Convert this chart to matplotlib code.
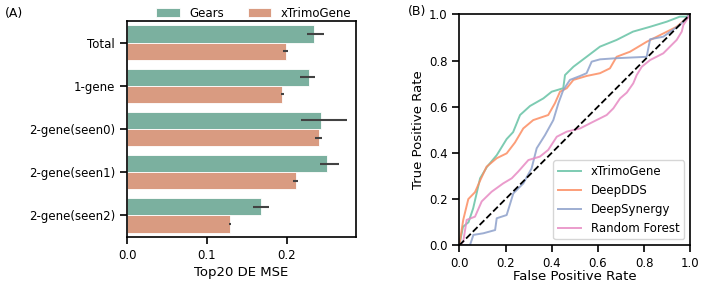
import matplotlib
matplotlib.use("Agg")
import matplotlib.pyplot as plt
import seaborn as sns
import numpy as np

# ---- Panel A data ----
categories = ["Total", "1-gene", "2-gene(seen0)", "2-gene(seen1)", "2-gene(seen2)"]
models_a = ["Gears", "xTrimoGene"]
gears_mse = [0.234, 0.228, 0.243, 0.250, 0.168]
gears_lo = [0.2246, 0.216, 0.2175, 0.241, 0.157]
gears_hi = [0.246, 0.235, 0.2746, 0.265, 0.178]
xtrimo_mse = [0.199, 0.194, 0.2396, 0.211, 0.129]
xtrimo_lo = [0.1954, 0.193, 0.2346, 0.208, 0.128]
xtrimo_hi = [0.2017, 0.196, 0.244, 0.214, 0.130]
xticks_a = [0.0, 0.1, 0.2]

# ---- Panel B data (ROC curves) ----
xtrimo_fpr = [0.0, 0.016, 0.04, 0.06, 0.09, 0.12, 0.162, 0.205, 0.233, 0.263, 0.306, 0.364, 0.40, 0.45, 0.4576, 0.494, 0.551, 0.609, 0.681, 0.752, 0.826, 0.898, 0.955, 0.984, 1.0]
xtrimo_tpr = [0.0, 0.08, 0.10, 0.16, 0.29, 0.34, 0.39, 0.46, 0.49, 0.564, 0.603, 0.636, 0.665, 0.68, 0.737, 0.773, 0.816, 0.86, 0.889, 0.925, 0.946, 0.968, 0.99, 0.99, 1.0]
deepdds_fpr = [0.0, 0.017, 0.039, 0.068, 0.09, 0.118, 0.162, 0.205, 0.241, 0.277, 0.32, 0.385, 0.414, 0.436, 0.465, 0.494, 0.551, 0.609, 0.652, 0.681, 0.739, 0.811, 0.869, 0.941, 0.984, 1.0]
deepdds_tpr = [0.0, 0.11, 0.20, 0.23, 0.28, 0.34, 0.377, 0.398, 0.445, 0.506, 0.542, 0.564, 0.615, 0.665, 0.68, 0.716, 0.733, 0.745, 0.766, 0.816, 0.838, 0.881, 0.91, 0.946, 0.983, 1.0]
deepsyn_fpr = [0.0, 0.046, 0.061, 0.104, 0.155, 0.162, 0.205, 0.234, 0.277, 0.313, 0.335, 0.371, 0.407, 0.429, 0.45, 0.479, 0.523, 0.551, 0.573, 0.609, 0.681, 0.811, 0.826, 0.883, 0.955, 1.0]
deepsyn_tpr = [0.0, 0.0, 0.045, 0.052, 0.066, 0.117, 0.131, 0.225, 0.268, 0.333, 0.42, 0.477, 0.542, 0.615, 0.672, 0.716, 0.733, 0.745, 0.795, 0.805, 0.81, 0.816, 0.892, 0.903, 0.954, 1.0]
rf_fpr = [0.0, 0.017, 0.032, 0.068, 0.097, 0.14, 0.19, 0.227, 0.255, 0.299, 0.349, 0.385, 0.422, 0.465, 0.523, 0.58, 0.638, 0.667, 0.696, 0.725, 0.753, 0.768, 0.79, 0.826, 0.883, 0.912, 0.941, 0.963, 0.97, 1.0]
rf_tpr = [0.0, 0.016, 0.11, 0.124, 0.19, 0.232, 0.268, 0.29, 0.319, 0.369, 0.384, 0.413, 0.47, 0.492, 0.506, 0.535, 0.564, 0.593, 0.636, 0.661, 0.701, 0.737, 0.773, 0.802, 0.831, 0.86, 0.889, 0.925, 0.954, 1.0]
roc_names = ["xTrimoGene", "DeepDDS", "DeepSynergy", "Random Forest"]
ticks_b = [0.0, 0.2, 0.4, 0.6, 0.8, 1.0]

set2 = sns.color_palette("Set2")
bar_colors = ["#7BB09F", "#D99B81"]

plt.rcParams['font.family'] = ['DejaVu Sans']

fig = plt.figure(figsize=(7.06, 2.87), dpi=100)

# ---- Panel A ----
ax1 = fig.add_axes([127/706, 1-237/287, (356-127)/706, (237-21)/287])
y = np.arange(len(categories))
h = 0.4
series = [(gears_mse, gears_lo, gears_hi), (xtrimo_mse, xtrimo_lo, xtrimo_hi)]
for i, (m, lo, hi) in enumerate(series):
    m = np.array(m); lo = np.array(lo); hi = np.array(hi)
    pos = y - h/2 + i*h
    ax1.barh(pos, m, height=h, color=bar_colors[i], edgecolor='white', linewidth=0.6, label=models_a[i])
    ax1.errorbar(m, pos, xerr=[m-lo, hi-m], fmt='none', ecolor='#424242', elinewidth=1.5, capsize=0)
ax1.set_yticks(y)
ax1.set_yticklabels(categories)
ax1.set_ylim(len(categories)-0.5, -0.5)
ax1.set_xlim(0, 0.2863)
ax1.set_xticks(xticks_a)
ax1.set_xticklabels([f"{v:.1f}" for v in xticks_a])
ax1.set_xlabel("Top20 DE MSE", fontsize=9.5, labelpad=3)
ax1.tick_params(axis='both', labelsize=8.5, length=5, width=1.2)
for s in ax1.spines.values():
    s.set_linewidth(1.2)
ax1.legend(loc='lower right', bbox_to_anchor=(1.0, 0.985), ncol=2, frameon=False,
           fontsize=8.5, borderaxespad=0.0, handlelength=2.0, columnspacing=2.0)
fig.text(5/706, 1-13/287, "(A)", fontsize=9, va='center', ha='left')

# ---- Panel B ----
ax2 = fig.add_axes([459.3/706, 1-245.3/287, 231/706, 231/287])
roc = [(xtrimo_fpr, xtrimo_tpr), (deepdds_fpr, deepdds_tpr), (deepsyn_fpr, deepsyn_tpr), (rf_fpr, rf_tpr)]
for i, (fx, ty) in enumerate(roc):
    ax2.plot(fx, ty, color=set2[i], lw=1.4, alpha=0.85, label=roc_names[i])
ax2.plot([0, 1], [0, 1], color='black', ls='--', lw=1.3)
ax2.set_xlim(0, 1)
ax2.set_ylim(0, 1)
ax2.set_xticks(ticks_b)
ax2.set_yticks(ticks_b)
ax2.set_xticklabels([f"{v:.1f}" for v in ticks_b])
ax2.set_yticklabels([f"{v:.1f}" for v in ticks_b])
ax2.set_xlabel("False Positive Rate", fontsize=9.5, labelpad=0)
ax2.set_ylabel("True Positive Rate", fontsize=9.5, labelpad=3)
ax2.tick_params(axis='both', labelsize=8.5, length=5, width=1.2)
for s in ax2.spines.values():
    s.set_linewidth(1.2)
ax2.legend(loc='lower right', fontsize=8.5, frameon=True, fancybox=True, handlelength=2.0)
fig.text(408/706, 1-12/287, "(B)", fontsize=9, va='center', ha='left')

fig.savefig("out.png", dpi=100)
